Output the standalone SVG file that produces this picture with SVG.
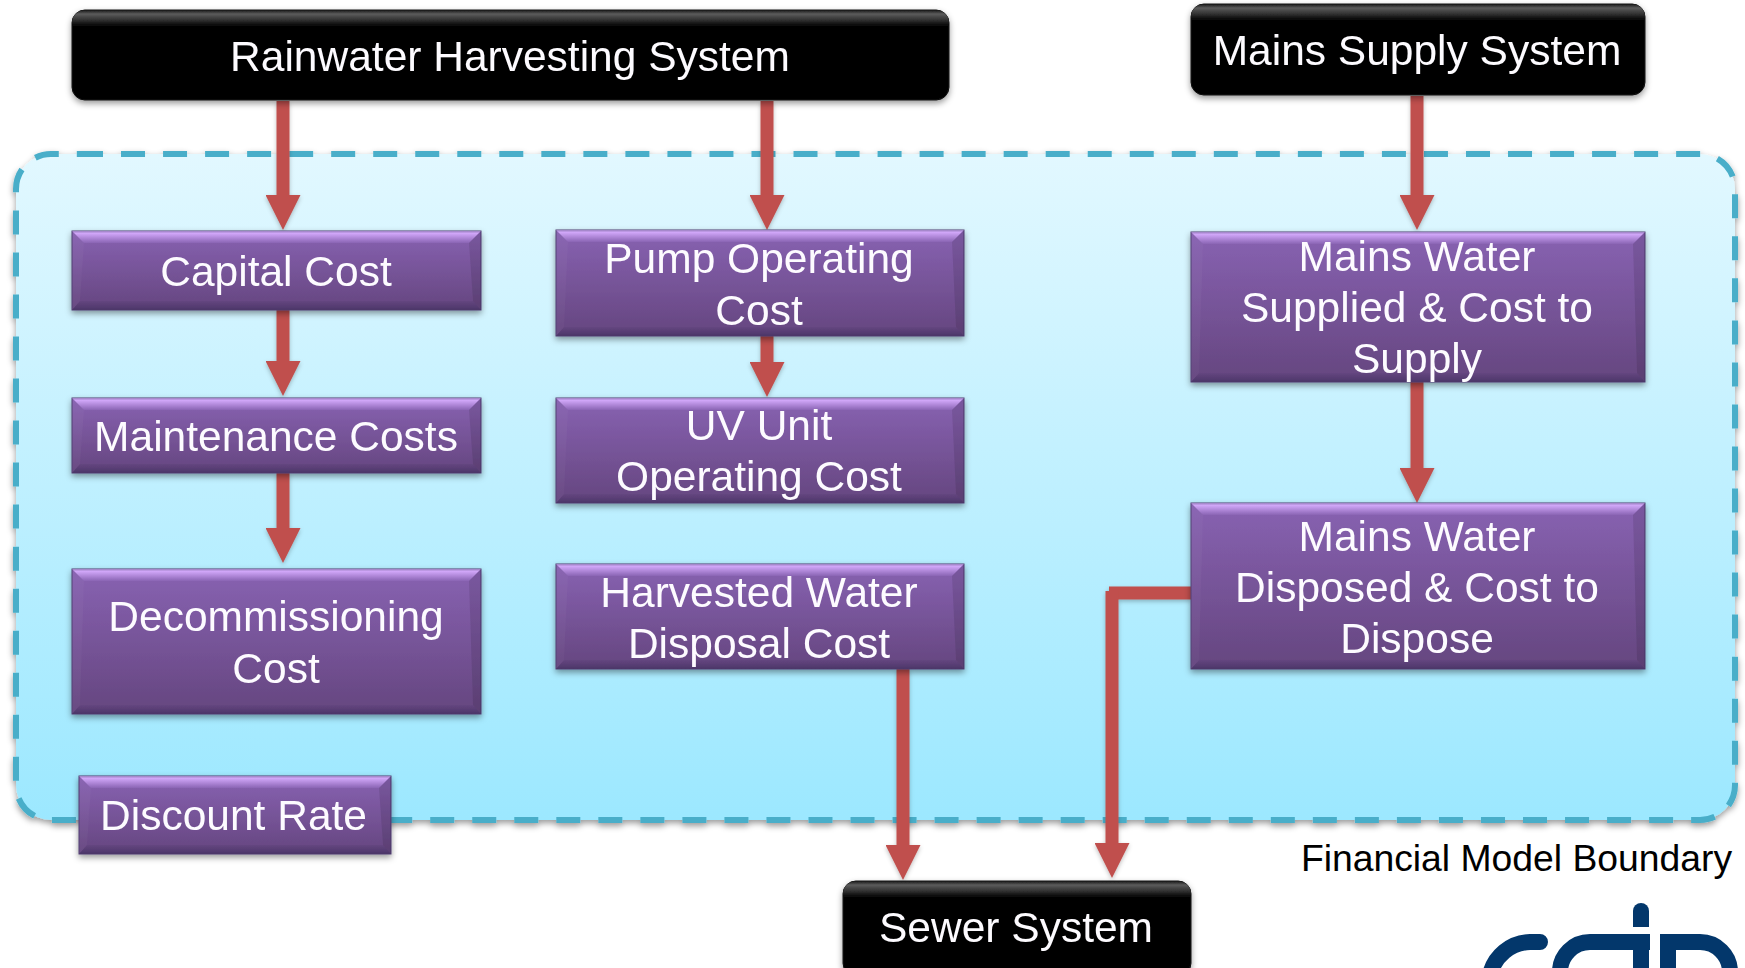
<svg xmlns="http://www.w3.org/2000/svg" width="1745" height="968" viewBox="0 0 1745 968">
<style>
text{font-family:"Liberation Sans",Arial,sans-serif;font-size:42.5px;text-anchor:middle;fill:#fdfbff}
.cap{fill:#000;font-size:37.3px}
.base{fill:url(#pg);stroke:#4f3d70;stroke-width:1}
.t{fill:url(#pt)}.b{fill:url(#pb)}.l{fill:#fff;opacity:.03}.r{fill:#000;opacity:.1}
.blk{fill:#050505;stroke:#111;stroke-width:1}.sh{fill:url(#bt)}
.c{fill:none;stroke:#c0504d;stroke-width:13}
.c.h{marker-end:url(#ah)}
.logo{fill:none;stroke:#03376b;stroke-width:16}
</style>
<defs>
<linearGradient id="bg" x1="0" y1="0" x2="0" y2="1"><stop offset="0" stop-color="#e2f8ff"/><stop offset="1" stop-color="#9ce8ff"/></linearGradient>
<linearGradient id="pg" x1="0" y1="0" x2="0" y2="1"><stop offset="0" stop-color="#8862b2"/><stop offset="1" stop-color="#65467f"/></linearGradient>
<linearGradient id="pt" x1="0" y1="0" x2="0" y2="1"><stop offset="0" stop-color="#9a80c0"/><stop offset=".2" stop-color="#d0a6f8"/><stop offset="1" stop-color="#8a64b4"/></linearGradient>
<linearGradient id="pb" x1="0" y1="0" x2="0" y2="1"><stop offset="0" stop-color="#644680"/><stop offset="1" stop-color="#4c3668"/></linearGradient>
<linearGradient id="bt" x1="0" y1="0" x2="0" y2="1"><stop offset="0" stop-color="#151515"/><stop offset=".25" stop-color="#5c5c5c"/><stop offset="1" stop-color="#050505"/></linearGradient>
<filter id="ds" x="-5%" y="-10%" width="110%" height="125%"><feDropShadow dx="0" dy="3" stdDeviation="3" flood-color="#000" flood-opacity=".4"/></filter>
<filter id="dc" x="-5%" y="-5%" width="110%" height="110%"><feDropShadow dx="0" dy="2" stdDeviation="2" flood-color="#000" flood-opacity=".25"/></filter>
<marker id="ah" markerUnits="userSpaceOnUse" markerWidth="35" markerHeight="35" refX="0" refY="17.5" orient="auto"><polygon points="0,0 35,17.5 0,35" fill="#c0504d"/></marker>
</defs>
<g id="boundary" filter="url(#ds)">
<path d="M79 154H1700A35 35 0 0 1 1735 189V785A35 35 0 0 1 1700 820H51A35 35 0 0 1 16 785V189A35 35 0 0 1 51 154Z" fill="url(#bg)"/>
<path d="M79 154H1700A35 35 0 0 1 1735 189V785A35 35 0 0 1 1700 820H51A35 35 0 0 1 16 785V189A35 35 0 0 1 51 154Z" fill="none" stroke="#48aec9" stroke-width="6" stroke-dasharray="24 18.03"/>
</g>
<g id="connectors" filter="url(#dc)">
<path class="c h" d="M283 101V195"/>
<path class="c h" d="M283 310V361"/>
<path class="c h" d="M283 473V528"/>
<path class="c h" d="M767 101V195"/>
<path class="c h" d="M767 336V362"/>
<path class="c h" d="M1417 96V195"/>
<path class="c h" d="M1417 382V468"/>
<path class="c h" d="M903 669V845"/>
<path class="c" d="M1109 593H1191"/>
<path class="c h" d="M1112 591V843"/>
</g>
<g id="rainwater" filter="url(#ds)"><rect class="blk" x="72" y="10" width="877" height="90" rx="13"/><path class="sh" d="M72 26V23A13 13 0 0 1 85 10H936A13 13 0 0 1 949 23V26Z"/><text x="510" y="71">Rainwater Harvesting System</text></g>
<g id="mains-supply" filter="url(#ds)"><rect class="blk" x="1191" y="4" width="454" height="91" rx="13"/><path class="sh" d="M1191 20V17A13 13 0 0 1 1204 4H1632A13 13 0 0 1 1645 17V20Z"/><text x="1417" y="65">Mains Supply System</text></g>
<g id="sewer" filter="url(#ds)"><rect class="blk" x="843" y="881" width="348" height="95" rx="13"/><path class="sh" d="M843 897V894A13 13 0 0 1 856 881H1178A13 13 0 0 1 1191 894V897Z"/><text x="1016" y="942">Sewer System</text></g>
<g id="capital" filter="url(#ds)"><rect class="base" x="72" y="231" width="409" height="79"/><polygon class="t" points="72,231 481,231 469,243 84,243"/><polygon class="b" points="72,310 481,310 473,301 80,301"/><polygon class="l" points="72,231 84,243 80,301 72,310"/><polygon class="r" points="481,231 469,243 473,301 481,310"/><text x="276" y="286">Capital Cost</text></g>
<g id="maintenance" filter="url(#ds)"><rect class="base" x="72" y="398" width="409" height="75"/><polygon class="t" points="72,398 481,398 469,410 84,410"/><polygon class="b" points="72,473 481,473 473,464 80,464"/><polygon class="l" points="72,398 84,410 80,464 72,473"/><polygon class="r" points="481,398 469,410 473,464 481,473"/><text x="276" y="451">Maintenance Costs</text></g>
<g id="decommissioning" filter="url(#ds)"><rect class="base" x="72" y="569" width="409" height="145"/><polygon class="t" points="72,569 481,569 469,581 84,581"/><polygon class="b" points="72,714 481,714 473,705 80,705"/><polygon class="l" points="72,569 84,581 80,705 72,714"/><polygon class="r" points="481,569 469,581 473,705 481,714"/><text x="276" y="631">Decommissioning</text><text x="276" y="683">Cost</text></g>
<g id="discount" filter="url(#ds)"><rect class="base" x="79" y="776" width="312" height="78"/><polygon class="t" points="79,776 391,776 379,788 91,788"/><polygon class="b" points="79,854 391,854 383,845 87,845"/><polygon class="l" points="79,776 91,788 87,845 79,854"/><polygon class="r" points="391,776 379,788 383,845 391,854"/><text x="233.500" y="830">Discount Rate</text></g>
<g id="pump" filter="url(#ds)"><rect class="base" x="556" y="230" width="408" height="106"/><polygon class="t" points="556,230 964,230 952,242 568,242"/><polygon class="b" points="556,336 964,336 956,327 564,327"/><polygon class="l" points="556,230 568,242 564,327 556,336"/><polygon class="r" points="964,230 952,242 956,327 964,336"/><text x="759" y="273">Pump Operating</text><text x="759" y="325">Cost</text></g>
<g id="uv" filter="url(#ds)"><rect class="base" x="556" y="398" width="408" height="105"/><polygon class="t" points="556,398 964,398 952,410 568,410"/><polygon class="b" points="556,503 964,503 956,494 564,494"/><polygon class="l" points="556,398 568,410 564,494 556,503"/><polygon class="r" points="964,398 952,410 956,494 964,503"/><text x="759" y="440">UV Unit</text><text x="759" y="491">Operating Cost</text></g>
<g id="harvested" filter="url(#ds)"><rect class="base" x="556" y="564" width="408" height="105"/><polygon class="t" points="556,564 964,564 952,576 568,576"/><polygon class="b" points="556,669 964,669 956,660 564,660"/><polygon class="l" points="556,564 568,576 564,660 556,669"/><polygon class="r" points="964,564 952,576 956,660 964,669"/><text x="759" y="607">Harvested Water</text><text x="759" y="658">Disposal Cost</text></g>
<g id="mains-supplied" filter="url(#ds)"><rect class="base" x="1191" y="232" width="454" height="150"/><polygon class="t" points="1191,232 1645,232 1633,244 1203,244"/><polygon class="b" points="1191,382 1645,382 1637,373 1199,373"/><polygon class="l" points="1191,232 1203,244 1199,373 1191,382"/><polygon class="r" points="1645,232 1633,244 1637,373 1645,382"/><text x="1417" y="271">Mains Water</text><text x="1417" y="322">Supplied &amp; Cost to</text><text x="1417" y="373">Supply</text></g>
<g id="mains-disposed" filter="url(#ds)"><rect class="base" x="1191" y="503" width="454" height="166"/><polygon class="t" points="1191,503 1645,503 1633,515 1203,515"/><polygon class="b" points="1191,669 1645,669 1637,660 1199,660"/><polygon class="l" points="1191,503 1203,515 1199,660 1191,669"/><polygon class="r" points="1645,503 1633,515 1637,660 1645,669"/><text x="1417" y="551">Mains Water</text><text x="1417" y="602">Disposed &amp; Cost to</text><text x="1417" y="653">Dispose</text></g>
<text class="cap" x="1516.500" y="871">Financial Model Boundary</text>
<g id="logo">
<path d="M1633 927V911A8 8 0 0 1 1649 911V927Z" fill="#03376b"/>
<path class="logo" stroke-linecap="round" d="M1540 942H1530A42 42 0 0 0 1490 975"/>
<path class="logo" d="M1650 942H1590A30 30 0 0 0 1560 972V975"/>
<path class="logo" d="M1641 934V975"/>
<path class="logo" d="M1668 975V942H1700A30 30 0 0 1 1730 972V975"/>
</g>
</svg>
